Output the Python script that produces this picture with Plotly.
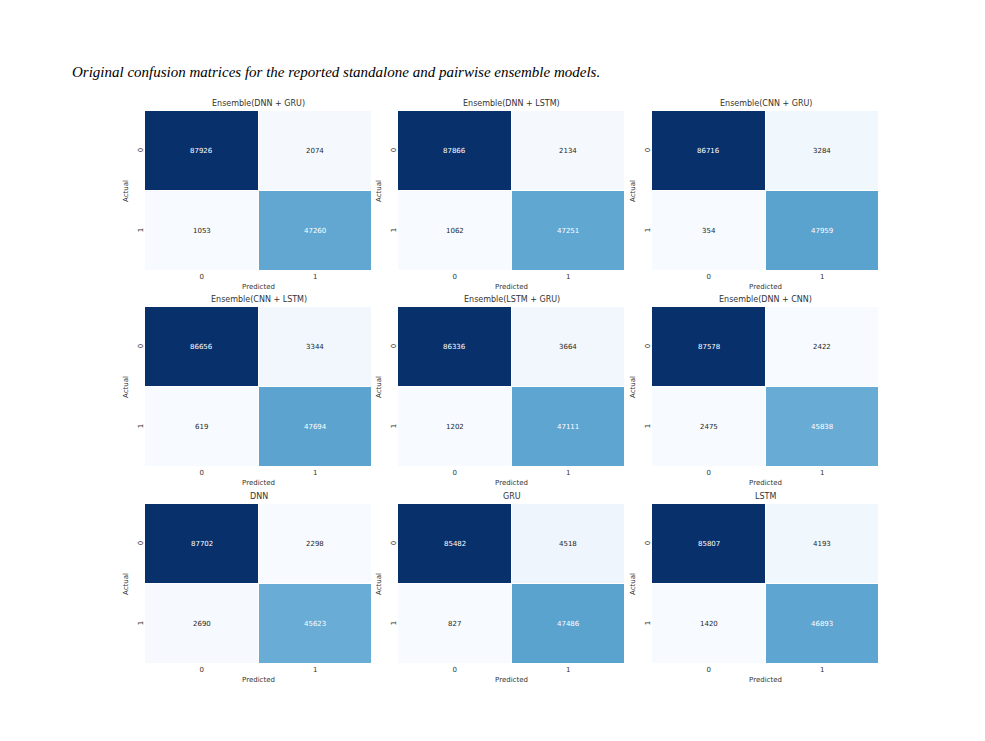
import plotly.graph_objects as go
import plotly.colors as pc

# Confusion matrix cells for each model (rows: actual 0/1, cols: predicted 0/1)
models = ["Ensemble(DNN + GRU)", "Ensemble(DNN + LSTM)", "Ensemble(CNN + GRU)",
          "Ensemble(CNN + LSTM)", "Ensemble(LSTM + GRU)", "Ensemble(DNN + CNN)",
          "DNN", "GRU", "LSTM"]
true_neg = [87926, 87866, 86716, 86656, 86336, 87578, 87702, 85482, 85807]
false_pos = [2074, 2134, 3284, 3344, 3664, 2422, 2298, 4518, 4193]
false_neg = [1053, 1062, 354, 619, 1202, 2475, 2690, 827, 1420]
true_pos = [47260, 47251, 47959, 47694, 47111, 45838, 45623, 47486, 46893]
labels = ["0", "1"]

W, H = 985, 741
off = 8  # page offset of the plot div
col_left = [145, 398, 652]
row_top = [111, 307, 504]
pw, ph = 227, 160

blues = [[i / 8, c] for i, c in enumerate(pc.sequential.Blues)]

fig = go.Figure()
annotations = []

for i, name in enumerate(models):
    r, c = divmod(i, 3)
    k = "" if i == 0 else str(i + 1)
    z = [[true_neg[i], false_pos[i]], [false_neg[i], true_pos[i]]]
    zmin = min(min(row) for row in z)
    zmax = max(max(row) for row in z)

    fig.add_trace(go.Heatmap(
        z=z, x=labels, y=labels,
        colorscale=blues, zmin=zmin, zmax=zmax,
        showscale=False, xgap=1, ygap=1,
        xaxis="x" + k, yaxis="y" + k,
        hovertemplate="Actual %{y}<br>Predicted %{x}<br>%{z}<extra></extra>",
    ))

    # cell annotations, white text on dark cells
    for a in range(2):
        for p in range(2):
            v = z[a][p]
            frac = (v - zmin) / (zmax - zmin)
            annotations.append(dict(
                x=labels[p], y=labels[a], xref="x" + k, yref="y" + k,
                text=str(v), showarrow=False,
                font=dict(size=7, color="white" if frac > 0.45 else "#262626"),
            ))

    x0 = (col_left[c] - off) / W
    x1 = (col_left[c] + pw - off) / W
    y1 = 1 - (row_top[r] - off) / H
    y0 = 1 - (row_top[r] + ph - off) / H

    fig.update_layout({
        "xaxis" + k: dict(domain=[x0, x1], anchor="y" + k, showgrid=False,
                          zeroline=False, ticks="", showline=False,
                          tickfont=dict(size=7, color="#333"),
                          title=dict(text="Predicted", font=dict(size=7, color="#333"),
                                     standoff=4)),
        "yaxis" + k: dict(domain=[y0, y1], anchor="x" + k, showgrid=False,
                          zeroline=False, ticks="", showline=False,
                          autorange="reversed", tickangle=-90,
                          tickfont=dict(size=7, color="#333"),
                          title=dict(text="Actual", font=dict(size=7, color="#333"),
                                     standoff=7)),
    })

    annotations.append(dict(
        x=(x0 + x1) / 2, y=y1, xref="paper", yref="paper",
        xanchor="center", yanchor="bottom", yshift=1, showarrow=False,
        text=name, font=dict(size=8, color="#333"),
    ))

fig.update_layout(
    width=W, height=H,
    margin=dict(l=0, r=0, t=0, b=0),
    paper_bgcolor="white", plot_bgcolor="white",
    font=dict(family="DejaVu Sans"),
    title=dict(
        text="<i>Original confusion matrices for the reported standalone and pairwise ensemble models.</i>",
        x=(72 - off) / W, xanchor="left", y=1 - (72 - off) / H, yanchor="middle",
        font=dict(family="Liberation Serif", size=15, color="black"),
    ),
    annotations=annotations,
)

fig.write_html("out.html")
